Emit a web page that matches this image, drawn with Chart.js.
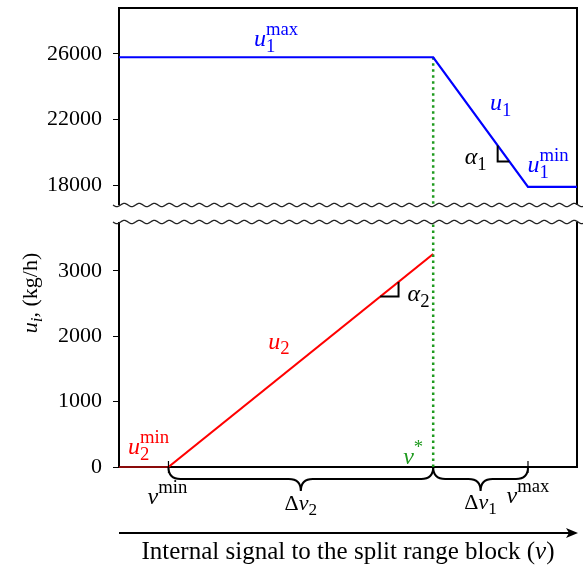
<!DOCTYPE html>
<html>
<head>
<meta charset="utf-8">
<script src="https://cdn.jsdelivr.net/npm/chart.js@4.4.0/dist/chart.umd.min.js"></script>
<style>
  html, body { margin: 0; padding: 0; background: #fff; }
  #wrap { position: relative; width: 583px; height: 567px; }
  canvas { position: absolute; left: 0; }
  #top { top: 0; }
  #bottom { top: 214px; }
</style>
</head>
<body>
<div id="wrap">
  <canvas id="top" width="583" height="214"></canvas>
  <canvas id="bottom" width="583" height="353"></canvas>
</div>
<script>
    // signal axis (arbitrary units)
    const xRange = [0, 100];
    const vMin = 10.8;
    const vStar = 68.6;
    const vMax = 89.3;

    // u1 (upper panel)
    const u1V = [0, vStar, vMax, 100];
    const u1Vals = [25800, 25800, 17900, 17900];
    const topRange = [16800, 28800];
    const topTicks = [18000, 22000, 26000];

    // u2 (lower panel)
    const u2V = [0, vMin, vStar];
    const u2Vals = [0, 0, 3260];
    const bottomRange = [0, 3750];
    const bottomTicks = [0, 1000, 2000, 3000];

    const serif = '"Liberation Serif", "DejaVu Serif", serif';
    const blue = '#0000ff', red = '#ff0000', green = '#1f9a1f';
    const M = 24; // math label size

    // draws a small math-like label: runs of text with sub/superscripts
    function drawRuns(ctx, list, x, y, color, size, align) {
        const lay = [];
        let cx = 0, start = 0;
        for (const r of list) {
            const s = r.lvl ? size * 0.78 : size;
            ctx.font = (r.it ? 'italic ' : '') + s + 'px ' + serif;
            const w = ctx.measureText(r.t).width;
            const rx = r.stack ? start : cx;
            lay.push({ r, s, rx });
            start = rx;
            cx = Math.max(cx, rx + w);
        }
        const x0 = align === 'center' ? x - cx / 2 : (align === 'right' ? x - cx : x);
        ctx.save();
        ctx.fillStyle = color;
        ctx.textAlign = 'left';
        ctx.textBaseline = 'alphabetic';
        lay.forEach(l => {
            ctx.font = (l.r.it ? 'italic ' : '') + l.s + 'px ' + serif;
            let dy = 0;
            if (l.r.lvl === -1) dy = size * 0.24;
            if (l.r.lvl === 1) dy = -size * 0.46;
            ctx.fillText(l.r.t, x0 + l.rx, y + dy);
        });
        ctx.restore();
    }

    function wavy(ctx, x1, x2, y) {
        ctx.save();
        ctx.beginPath();
        for (let x = x1; x <= x2; x += 0.5) {
            const yy = y + 1.6 * Math.sin((x - x1) / 15 * 2 * Math.PI);
            if (x === x1) ctx.moveTo(x, yy); else ctx.lineTo(x, yy);
        }
        ctx.lineWidth = 1.3;
        ctx.strokeStyle = '#222';
        ctx.stroke();
        ctx.restore();
    }

    function brace(ctx, x1, x2, y, a) {
        const m = (x1 + x2) / 2, h = a / 2;
        ctx.save();
        ctx.beginPath();
        ctx.moveTo(x1, y);
        ctx.quadraticCurveTo(x1, y + h, x1 + h, y + h);
        ctx.lineTo(m - h, y + h);
        ctx.quadraticCurveTo(m, y + h, m, y + a);
        ctx.quadraticCurveTo(m, y + h, m + h, y + h);
        ctx.lineTo(x2 - h, y + h);
        ctx.quadraticCurveTo(x2, y + h, x2, y);
        ctx.lineWidth = 2;
        ctx.strokeStyle = '#000';
        ctx.stroke();
        ctx.restore();
    }

    function yAxis(range, ticks) {
        return {
            position: 'left',
            min: range[0],
            max: range[1],
            afterFit: s => { s.width = 119; s.paddingTop = 0; s.paddingBottom = 0; },
            afterBuildTicks: s => { s.ticks = ticks.map(v => ({ value: v })); },
            grid: { drawOnChartArea: false, drawTicks: true, tickLength: 6, color: '#000', lineWidth: 1 },
            border: { display: false },
            ticks: { color: '#000', padding: 11, font: { family: serif, size: 22 }, callback: v => String(v) }
        };
    }

    const xAxis = { type: 'linear', display: false, min: xRange[0], max: xRange[1] };

    const baseOptions = (range, ticks, padding) => ({
        responsive: false,
        devicePixelRatio: 1,
        animation: false,
        events: [],
        layout: { padding },
        plugins: { legend: { display: false }, tooltip: { enabled: false } },
        scales: { x: xAxis, y: yAxis(range, ticks) }
    });

    const topDeco = {
        id: 'topDeco',
        beforeDatasetsDraw(chart) {
            const { ctx, chartArea: a } = chart;
            ctx.save();
            ctx.strokeStyle = '#000';
            ctx.lineWidth = 2;
            ctx.beginPath();
            ctx.moveTo(a.left, a.bottom);
            ctx.lineTo(a.left, a.top);
            ctx.lineTo(a.right, a.top);
            ctx.lineTo(a.right, a.bottom);
            ctx.stroke();
            ctx.restore();
        },
        afterDraw(chart) {
            const { ctx, chartArea: a, scales: { x, y } } = chart;
            const px = v => x.getPixelForValue(v), py = v => y.getPixelForValue(v);
            wavy(ctx, a.left - 6, chart.width, a.bottom);

            drawRuns(ctx, [{ t: 'u', it: 1 }, { t: '1', lvl: -1 }, { t: 'max', lvl: 1, stack: 1 }],
                (px(u1V[0]) + px(vStar)) / 2, py(u1Vals[0]) - 11, blue, M, 'center');

            const x0 = px(vStar), y0 = py(u1Vals[1]), x1 = px(vMax), y1 = py(u1Vals[2]);
            drawRuns(ctx, [{ t: 'u', it: 1 }, { t: '1', lvl: -1 }], (x0 + x1) / 2 + 20, (y0 + y1) / 2 - 12, blue, M, 'center');

            const t = 0.68, mx = x0 + t * (x1 - x0), my = y0 + t * (y1 - y0), leg = 16;
            const hx = leg * (x1 - x0) / (y1 - y0);
            ctx.save();
            ctx.beginPath();
            ctx.moveTo(mx, my);
            ctx.lineTo(mx, my + leg);
            ctx.lineTo(mx + hx, my + leg);
            ctx.lineWidth = 2;
            ctx.strokeStyle = '#000';
            ctx.stroke();
            ctx.restore();
            drawRuns(ctx, [{ t: 'α', it: 1 }, { t: '1', lvl: -1 }], mx - 22, my + 19, '#000', M, 'center');

            drawRuns(ctx, [{ t: 'u', it: 1 }, { t: '1', lvl: -1 }, { t: 'min', lvl: 1, stack: 1 }],
                x1 + 20, y1 - 15, blue, M, 'center');
        }
    };

    const bottomDeco = {
        id: 'bottomDeco',
        beforeDatasetsDraw(chart) {
            const { ctx, chartArea: a } = chart;
            ctx.save();
            ctx.strokeStyle = '#000';
            ctx.lineWidth = 2;
            ctx.beginPath();
            ctx.moveTo(a.left, a.top);
            ctx.lineTo(a.left, a.bottom);
            ctx.lineTo(a.right, a.bottom);
            ctx.lineTo(a.right, a.top);
            ctx.stroke();
            ctx.restore();
        },
        afterDraw(chart) {
            const { ctx, chartArea: a, scales: { x, y } } = chart;
            const px = v => x.getPixelForValue(v), py = v => y.getPixelForValue(v);
            wavy(ctx, a.left - 6, chart.width, a.top);

            const x0 = px(vMin), y0 = py(u2Vals[1]), x1 = px(vStar), y1 = py(u2Vals[2]);
            const base = py(0);

            drawRuns(ctx, [{ t: 'u', it: 1 }, { t: '2', lvl: -1 }], (x0 + x1) / 2 - 22, (y0 + y1) / 2 - 12, red, M, 'center');
            drawRuns(ctx, [{ t: 'u', it: 1 }, { t: '2', lvl: -1 }, { t: 'min', lvl: 1, stack: 1 }],
                x0 - 20, base - 13, red, M, 'center');

            // right angle marker for alpha2
            const t = 0.8, mx = x0 + t * (x1 - x0), my = y0 + t * (y1 - y0), leg = 18.3;
            const vy = leg * (y0 - y1) / (x1 - x0);
            ctx.save();
            ctx.beginPath();
            ctx.moveTo(mx, my);
            ctx.lineTo(mx + leg, my);
            ctx.lineTo(mx + leg, my - vy);
            ctx.lineWidth = 2;
            ctx.strokeStyle = '#000';
            ctx.stroke();
            ctx.restore();
            drawRuns(ctx, [{ t: 'α', it: 1 }, { t: '2', lvl: -1 }], mx + leg + 20, my + 4.5, '#000', M, 'center');

            drawRuns(ctx, [{ t: 'v', it: 1 }, { t: '*', lvl: 1 }], x1 - 20, base - 3, green, M, 'center');

            // braces and ticks along the signal axis
            brace(ctx, px(vMin), px(vStar), base, 24);
            brace(ctx, px(vStar), px(vMax), base, 24);
            ctx.save();
            ctx.strokeStyle = '#000';
            ctx.lineWidth = 1.2;
            [vMin, vMax].forEach(v => {
                ctx.beginPath();
                ctx.moveTo(px(v), base - 6);
                ctx.lineTo(px(v), base + 6);
                ctx.stroke();
            });
            ctx.restore();

            drawRuns(ctx, [{ t: 'v', it: 1 }, { t: 'min', lvl: 1 }], px(vMin) - 1, base + 37, '#000', M, 'center');
            drawRuns(ctx, [{ t: 'v', it: 1 }, { t: 'max', lvl: 1 }], px(vMax), base + 36, '#000', M, 'center');
            drawRuns(ctx, [{ t: 'Δ' }, { t: 'v', it: 1 }, { t: '2', lvl: -1 }], (px(vMin) + px(vStar)) / 2, base + 43, '#000', 22, 'center');
            drawRuns(ctx, [{ t: 'Δ' }, { t: 'v', it: 1 }, { t: '1', lvl: -1 }], (px(vStar) + px(vMax)) / 2, base + 42, '#000', 22, 'center');

            // arrow + axis title
            const ay = base + 66;
            ctx.save();
            ctx.strokeStyle = '#000';
            ctx.fillStyle = '#000';
            ctx.lineWidth = 2;
            ctx.beginPath();
            ctx.moveTo(a.left, ay);
            ctx.lineTo(a.right - 4, ay);
            ctx.stroke();
            ctx.beginPath();
            ctx.moveTo(a.right + 1, ay);
            ctx.lineTo(a.right - 11, ay - 5);
            ctx.lineTo(a.right - 8, ay);
            ctx.lineTo(a.right - 11, ay + 5);
            ctx.closePath();
            ctx.fill();
            ctx.restore();

            drawRuns(ctx, [{ t: 'Internal signal to the split range block (' }, { t: 'v', it: 1 }, { t: ')' }],
                (a.left + a.right) / 2, base + 92, '#000', 25, 'center');

            // y-axis title
            ctx.save();
            ctx.translate(37, a.top + 71);
            ctx.rotate(-Math.PI / 2);
            drawRuns(ctx, [{ t: 'u', it: 1 }, { t: 'i', it: 1, lvl: -1 }, { t: ', (kg/h)' }], 0, 0, '#000', 22, 'center');
            ctx.restore();
        }
    };

    new Chart(document.getElementById('top'), {
        type: 'scatter',
        data: {
            datasets: [{
                data: u1V.map((v, i) => ({ x: v, y: u1Vals[i] })),
                showLine: true,
                borderColor: blue,
                borderWidth: 2.2,
                pointRadius: 0,
                clip: false
            }, {
                data: [{ x: vStar, y: u1Vals[1] }, { x: vStar, y: topRange[0] }],
                showLine: true,
                borderColor: green,
                borderWidth: 2.5,
                borderDash: [2.5, 3.5],
                pointRadius: 0
            }]
        },
        options: baseOptions(topRange, topTicks, { top: 8, right: 6, bottom: 9, left: 0 }),
        plugins: [topDeco]
    });

    new Chart(document.getElementById('bottom'), {
        type: 'scatter',
        data: {
            datasets: [{
                data: [{ x: vStar, y: bottomRange[0] }, { x: vStar, y: bottomRange[1] }],
                showLine: true,
                borderColor: green,
                borderWidth: 2.5,
                borderDash: [2.5, 3.5],
                pointRadius: 0
            }, {
                data: u2V.map((v, i) => ({ x: v, y: u2Vals[i] })),
                showLine: true,
                borderColor: red,
                borderWidth: 2.2,
                pointRadius: 0,
                clip: false,
                segment: {
                    borderColor: c => (c.p0.parsed.y === 0 && c.p1.parsed.y === 0) ? '#8a0a0a' : red
                }
            }]
        },
        options: baseOptions(bottomRange, bottomTicks, { top: 8, right: 6, bottom: 100, left: 0 }),
        plugins: [bottomDeco]
    });
</script>
</body>
</html>
